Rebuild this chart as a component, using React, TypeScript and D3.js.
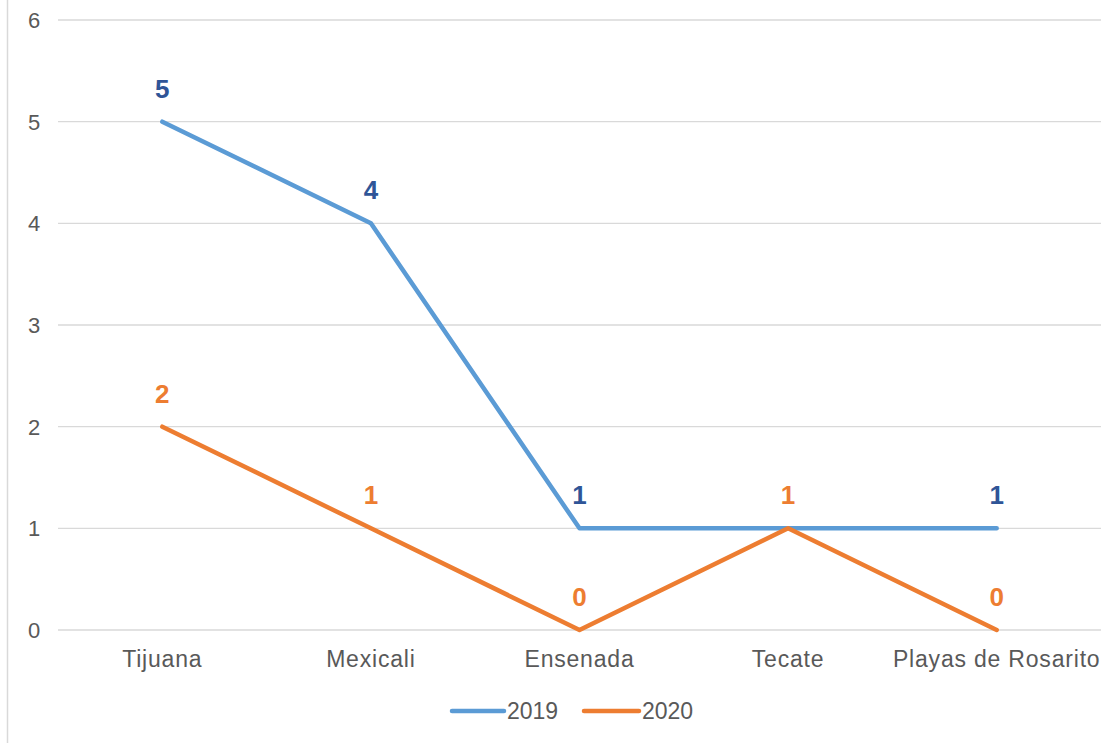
import React from "react";
import * as d3 from "d3";

const categories = ["Tijuana", "Mexicali", "Ensenada", "Tecate", "Playas de Rosarito"];
const values2019 = [5, 4, 1, 1, 1];
const values2020 = [2, 1, 0, 1, 0];
const yTicks = [0, 1, 2, 3, 4, 5, 6];
const seriesNames = ["2019", "2020"];

const W = 1116;
const H = 743;

export default function App() {
  const x = d3.scaleBand<string>().domain(categories).range([58, 1101]);
  const y = d3.scaleLinear().domain([0, 6]).range([630, 20]);
  const cx = (c: string) => (x(c) ?? 0) + x.bandwidth() / 2;
  const line = d3
    .line<number>()
    .x((_, i) => cx(categories[i]))
    .y((v) => y(v));
  const series = [
    { name: seriesNames[0], vals: values2019, color: "#5B9BD5", label: "#2F5597", other: values2020 },
    { name: seriesNames[1], vals: values2020, color: "#ED7D31", label: "#ED7D31", other: null as number[] | null },
  ];
  const font = "Arial, 'Liberation Sans', sans-serif";
  return (
    <svg
      width={W}
      height={H}
      style={{ position: "absolute", left: 0, top: 0, background: "#fff" }}
      fontFamily={font}
    >
      <line x1={7.5} x2={7.5} y1={0} y2={H} stroke="#d9d9d9" strokeWidth={1.5} />
      {yTicks.map((t) => (
        <g key={t}>
          <line x1={58} x2={1101} y1={y(t)} y2={y(t)} stroke="#d9d9d9" strokeWidth={1.3} />
          <text x={34} y={y(t) + 8} textAnchor="middle" fontSize={22} fill="#595959">
            {t}
          </text>
        </g>
      ))}
      {categories.map((c) => (
        <text
          key={c}
          x={cx(c)}
          y={667}
          textAnchor="middle"
          fontSize={23}
          letterSpacing={0.8}
          fill="#595959"
        >
          {c}
        </text>
      ))}
      {series.map((s) => (
        <path
          key={s.name}
          d={line(s.vals) ?? ""}
          fill="none"
          stroke={s.color}
          strokeWidth={4.5}
          strokeLinejoin="round"
          strokeLinecap="round"
        />
      ))}
      {series.map((s) =>
        s.vals.map((v, i) =>
          s.other && s.other[i] === v ? null : (
            <text
              key={s.name + i}
              x={cx(categories[i])}
              y={y(v) - 24}
              textAnchor="middle"
              fontSize={26}
              fontWeight="bold"
              fill={s.label}
            >
              {v}
            </text>
          )
        )
      )}
      <g>
        <line x1={452} x2={504} y1={711} y2={711} stroke="#5B9BD5" strokeWidth={4.5} strokeLinecap="round" />
        <text x={507} y={719} fontSize={23} fill="#595959">
          {seriesNames[0]}
        </text>
        <line x1={584} x2={639} y1={711} y2={711} stroke="#ED7D31" strokeWidth={4.5} strokeLinecap="round" />
        <text x={642} y={719} fontSize={23} fill="#595959">
          {seriesNames[1]}
        </text>
      </g>
    </svg>
  );
}
